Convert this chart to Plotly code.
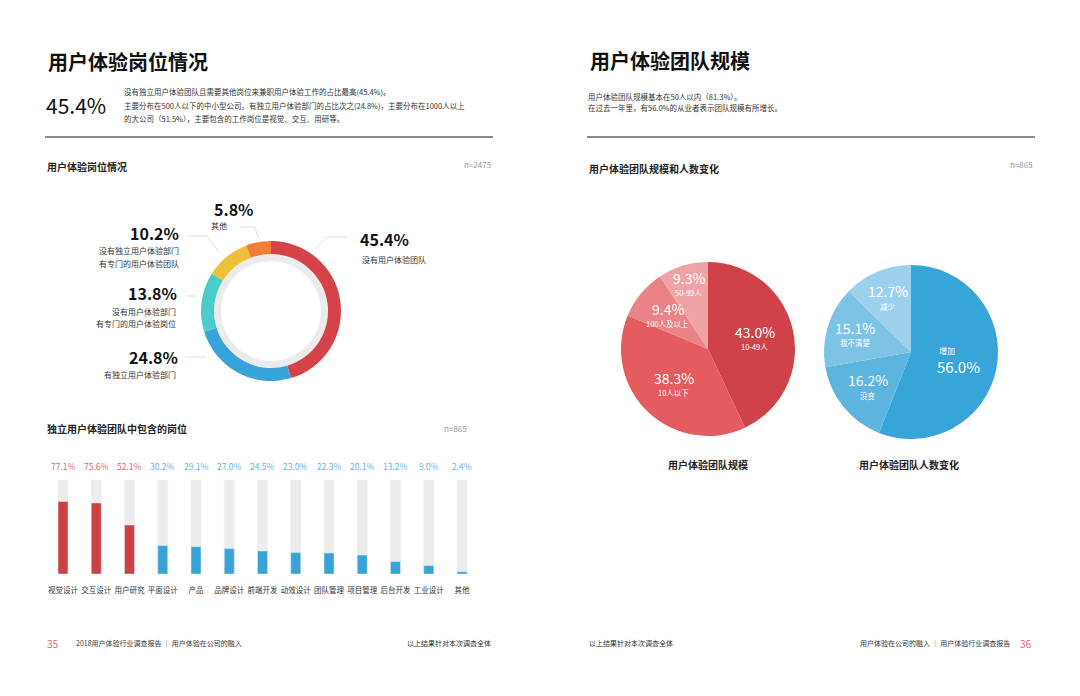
import numpy as np
import plotly.graph_objects as go

W, H = 1080, 696
FONT = "Noto Sans CJK SC"

# ---------------- data ----------------
donut_labels = ["没有用户体验团队", "有独立用户体验部门", "没有用户体验部门<br>有专门的用户体验岗位",
                "没有独立用户体验部门<br>有专门的用户体验团队", "其他"]
donut_values = [45.4, 24.8, 13.8, 10.2, 5.8]
donut_colors = ["#d5434a", "#36a4d8", "#4ccbcb", "#eec03a", "#ef7e35"]

bar_cats = ["视觉设计", "交互设计", "用户研究", "平面设计", "产品", "品牌设计", "前端开发",
            "动效设计", "团队管理", "项目管理", "后台开发", "工业设计", "其他"]
bar_vals = [77.1, 75.6, 52.1, 30.2, 29.1, 27.0, 24.5, 23.0, 22.3, 20.1, 13.2, 9.0, 2.4]
bar_full = [100] * len(bar_cats)

size_labels = ["10-49人", "10人以下", "100人及以上", "50-99人"]
size_values = [43.0, 38.3, 9.4, 9.3]
size_colors = ["#d0424a", "#e45b60", "#e98387", "#f0a3a6"]

chg_labels = ["增加", "没变", "我不清楚", "减少"]
chg_values = [56.0, 16.2, 15.1, 12.7]
chg_colors = ["#38a5d8", "#5cb4df", "#7cc3e6", "#9dd0ec"]


def P(x):
    return x / W


def Q(y):
    return 1 - y / H


fig = go.Figure()
annotations = []
shapes = []


def text(x, y, s, size, color="#222", anchor="left", bold=False, valign="middle"):
    annotations.append(dict(
        x=P(x), y=Q(y), xref="paper", yref="paper", text=("<b>%s</b>" % s) if bold else s,
        showarrow=False, xanchor=anchor, yanchor=valign,
        font=dict(family=FONT, size=size, color=color)))


def line(x0, y0, x1, y1, color="#dddddd", width=1):
    shapes.append(dict(type="line", xref="paper", yref="paper",
                       x0=P(x0), y0=Q(y0), x1=P(x1), y1=Q(y1),
                       line=dict(color=color, width=width)))


# ---------------- donut ----------------
cx, cy, r = 271, 311, 70
fig.add_trace(go.Pie(
    values=[sum(donut_values)], marker=dict(colors=["#ebebeb"]), hole=50 / 57,
    domain=dict(x=[P(cx - 57), P(cx + 57)], y=[Q(cy + 57), Q(cy - 57)]),
    textinfo="none", hoverinfo="skip", showlegend=False, sort=False))
fig.add_trace(go.Pie(
    labels=donut_labels, values=donut_values, marker=dict(colors=donut_colors),
    hole=57 / 70, direction="clockwise", rotation=0, sort=False,
    domain=dict(x=[P(cx - r), P(cx + r)], y=[Q(cy + r), Q(cy - r)]),
    textinfo="none", showlegend=False))

# donut outside labels
text(358, 239, "<b>%.1f%%</b>" % donut_values[0], 16, "#111")
text(360, 259, "没有用户体验团队", 8, "#333")
line(315, 249, 327, 237)
line(327, 237, 347, 237)

text(180, 357, "<b>%.1f%%</b>" % donut_values[1], 16, "#111", anchor="right")
text(178, 374, "有独立用户体验部门", 8, "#333", anchor="right")
line(185, 357, 206, 357)

text(179, 293, "<b>%.1f%%</b>" % donut_values[2], 16, "#111", anchor="right")
text(178, 311, "没有用户体验部门", 8, "#333", anchor="right")
text(178, 323, "有专门的用户体验岗位", 8, "#333", anchor="right")
line(187, 296, 196, 296)

text(181, 233, "<b>%.1f%%</b>" % donut_values[3], 16, "#111", anchor="right")
text(181, 250, "没有独立用户体验部门", 8, "#333", anchor="right")
text(181, 263, "有专门的用户体验团队", 8, "#333", anchor="right")
line(190, 236, 207, 236)
line(207, 236, 219, 252)

text(234, 209, "<b>%.1f%%</b>" % donut_values[4], 16, "#111", anchor="center")
text(219, 226, "其他", 8, "#333", anchor="center")
line(240, 227, 255, 227)
line(255, 227, 258, 238)

# ---------------- bars ----------------
fig.add_trace(go.Bar(x=bar_cats, y=bar_full, marker=dict(color="#ececec"), width=0.3,
                     hoverinfo="skip", showlegend=False, xaxis="x", yaxis="y"))
bar_colors = ["#cf3f46" if v > 50 else "#3aa3d5" for v in bar_vals]
fig.add_trace(go.Bar(x=bar_cats, y=bar_vals, marker=dict(color=bar_colors), width=0.3,
                     showlegend=False, xaxis="x", yaxis="y"))
for c, v in zip(bar_cats, bar_vals):
    annotations.append(dict(x=c, y=100, xref="x", yref="y", text="%.1f%%" % v, showarrow=False,
                            yanchor="middle", yshift=14,
                            font=dict(family=FONT, size=8.5,
                                      color="#e0676b" if v > 50 else "#68b3df")))

# ---------------- pies ----------------
def pie_with_labels(labels, values, colors, pcx, pcy, pr, rf, label_first_idx=None):
    fig.add_trace(go.Pie(
        labels=labels, values=values, marker=dict(colors=colors, line=dict(width=0)),
        direction="clockwise", rotation=0, sort=False,
        domain=dict(x=[P(pcx - pr), P(pcx + pr)], y=[Q(pcy + pr), Q(pcy - pr)]),
        textinfo="none", showlegend=False))
    vals = np.array(values, dtype=float)
    cum = np.cumsum(vals) - vals / 2
    ang = cum / vals.sum() * 2 * np.pi
    for i, (lab, v, a) in enumerate(zip(labels, values, ang)):
        f = rf[i]
        x = pcx + f * pr * np.sin(a)
        y = pcy - f * pr * np.cos(a)
        if i == label_first_idx:
            text(x - 12, y - 9, lab, 8, "white")
            text(x - 14, y + 7, "%.1f%%" % v, 15, "white")
        else:
            text(x, y - 7, "%.1f%%" % v, 14, "white", anchor="center")
            text(x, y + 8, lab, 7.5, "white", anchor="center")


pie_with_labels(size_labels, size_values, size_colors, 708, 349, 87, [0.55, 0.57, 0.60, 0.77])
pie_with_labels(chg_labels, chg_values, chg_colors, 911, 352, 87, [0.45, 0.64, 0.67, 0.67], label_first_idx=0)

text(708, 464, "用户体验团队规模", 10, "#222", anchor="center", bold=True)
text(909, 464, "用户体验团队人数变化", 10, "#222", anchor="center", bold=True)

# ---------------- headers ----------------
text(46, 61, "用户体验岗位情况", 20, "#111", bold=True)
text(44, 105, "45.4%", 21, "#111")
text(122, 91, "没有独立用户体验团队且需要其他岗位来兼职用户体验工作的占比最高(45.4%)。", 7.5, "#333")
text(122, 105, "主要分布在500人以下的中小型公司。有独立用户体验部门的占比次之(24.8%)，主要分布在1000人以上", 7.5, "#333")
text(122, 119, "的大公司（51.5%），主要包含的工作岗位是视觉、交互、用研等。", 7.5, "#333")
line(45, 137, 493, 137, "#888888", 2)

text(588, 60, "用户体验团队规模", 20, "#111", bold=True)
text(586, 96, "用户体验团队规模基本在50人以内（81.3%）。", 7.5, "#333")
text(586, 108, "在过去一年里，有56.0%的从业者表示团队规模有所增长。", 7.5, "#333")
line(587, 137, 1035, 137, "#888888", 2)

text(45, 166, "用户体验岗位情况", 10, "#222", bold=True)
text(493, 165, "n=2475", 8, "#999", anchor="right")
text(45, 428, "独立用户体验团队中包含的岗位", 10, "#222", bold=True)
text(469, 428, "n=865", 8, "#999", anchor="right")
text(587, 168, "用户体验团队规模和人数变化", 10, "#222", bold=True)
text(1035, 165, "n=865", 8, "#999", anchor="right")

# ---------------- footer ----------------
text(45, 643, "35", 10, "#e0676b")
text(74, 643, "2018用户体验行业调查报告 │ 用户体验在公司的融入", 7, "#333")
text(493, 643, "以上结果针对本次调查全体", 7, "#333", anchor="right")
text(587, 643, "以上结果针对本次调查全体", 7, "#333")
text(1012, 643, "用户体验在公司的融入 │ 用户体验行业调查报告", 7, "#333", anchor="right")
text(1034, 643, "36", 10, "#e0676b", anchor="right")

x_spacing = (462 - 63) / 12
fig.update_layout(
    width=W, height=H, margin=dict(l=0, r=0, t=0, b=0),
    paper_bgcolor="white", plot_bgcolor="white",
    font=dict(family=FONT),
    barmode="overlay",
    xaxis=dict(domain=[P(63 - x_spacing / 2), P(462 + x_spacing / 2)], range=[-0.5, 12.5],
               showgrid=False, zeroline=False, showline=False, ticks="outside", ticklen=9,
               tickangle=0,
               tickcolor="rgba(0,0,0,0)", tickfont=dict(family=FONT, size=7.5, color="#333"),
               fixedrange=True),
    yaxis=dict(domain=[Q(574), Q(480)], range=[0, 100], visible=False, fixedrange=True),
    annotations=annotations, shapes=shapes,
)

fig.write_html("out.html", config={"displayModeBar": False},
               post_script="document.body.style.margin='0px';")
